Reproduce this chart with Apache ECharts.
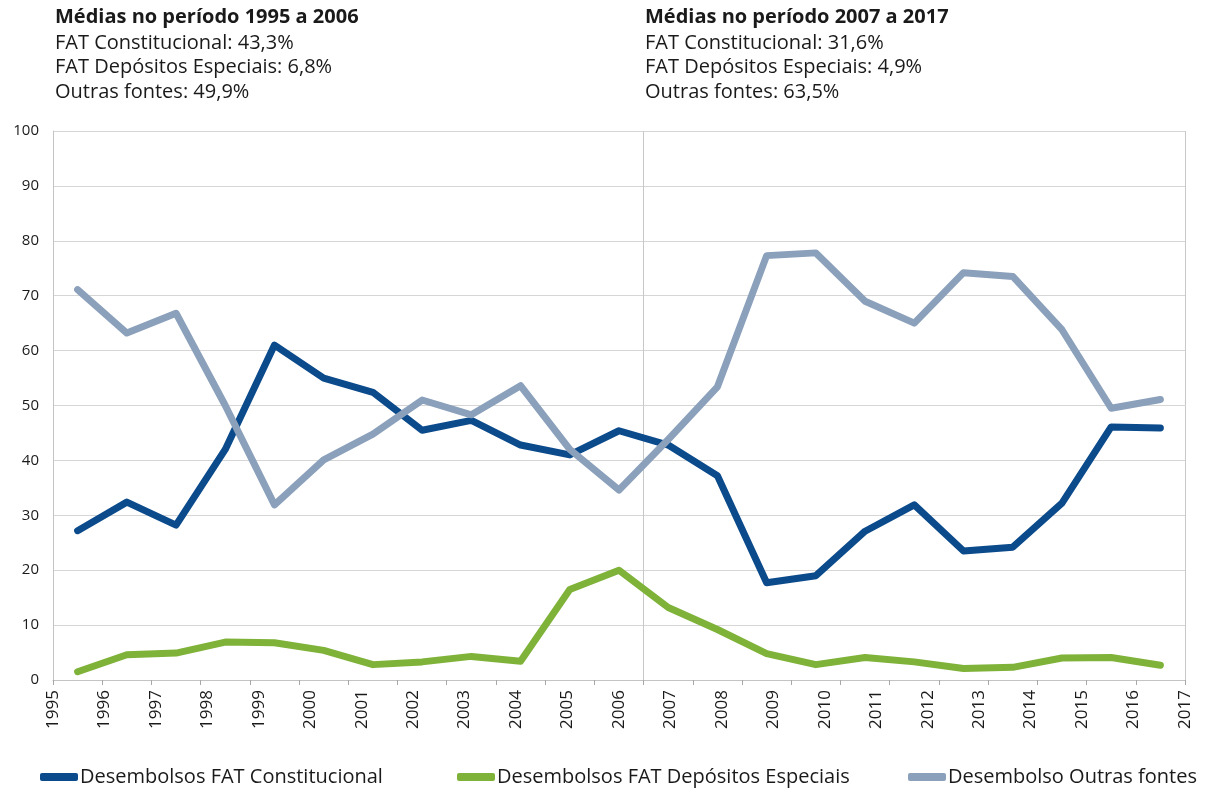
<!DOCTYPE html>
<html>
<head>
<meta charset="utf-8">
<title>Desembolsos FAT</title>
<script src="https://cdn.jsdelivr.net/npm/echarts@6/dist/echarts.min.js"></script>
<style>
	html, body { margin: 0; padding: 0; background: #fff; }
	#chart { width: 1206px; height: 795px; }
</style>
</head>
<body>
<div id="chart"></div>
<script>
var years = ["1995", "1996", "1997", "1998", "1999", "2000", "2001", "2002", "2003", "2004", "2005", "2006",
	"2007", "2008", "2009", "2010", "2011", "2012", "2013", "2014", "2015", "2016", "2017"];
var fatConstitucional = [27.2, 32.4, 28.2, 42, 61, 55, 52.4, 45.5, 47.3, 42.8, 41, 45.4,
	42.8, 37.2, 17.7, 19, 27.1, 31.9, 23.5, 24.2, 32.2, 46.1, 45.9];
var fatDepositos = [1.5, 4.6, 4.9, 6.9, 6.8, 5.4, 2.8, 3.3, 4.3, 3.4, 16.5, 20,
	13.2, 9.2, 4.8, 2.8, 4.1, 3.3, 2.1, 2.3, 4, 4.1, 2.7];
var outrasFontes = [71.1, 63.2, 66.8, 50, 31.9, 40.1, 44.8, 51, 48.3, 53.6, 42, 34.6,
	43.8, 53.4, 77.3, 77.8, 69, 65, 74.2, 73.5, 63.8, 49.5, 51.1];
var seriesNames = ["Desembolsos FAT Constitucional", "Desembolsos FAT Depósitos Especiais", "Desembolso Outras fontes"];
var seriesColors = ["#0b4a8b", "#7fb239", "#8ba0bb"];
var yTicks = [0, 10, 20, 30, 40, 50, 60, 70, 80, 90, 100];
var periodTitles = ["Médias no período 1995 a 2006", "Médias no período 2007 a 2017"];
var periodLines = [
	["FAT Constitucional: 43,3%", "FAT Depósitos Especiais: 6,8%", "Outras fontes: 49,9%"],
	["FAT Constitucional: 31,6%", "FAT Depósitos Especiais: 4,9%", "Outras fontes: 63,5%"]
];
// boundary (between categories) where the period divider is drawn
var dividerIndex = 12;

var fontFamily = "'Open Sans', 'Noto Sans', sans-serif";
var textColor = "#1a1a1a";
var gridColor = "#d6d6d6";

var chart = echarts.init(document.getElementById("chart"), null, { renderer: "canvas" });

var makeTitle = function (i, left) {
	return {
		text: periodTitles[i],
		subtext: periodLines[i].join("\n"),
		left: left,
		top: 5,
		itemGap: 1,
		padding: 0,
		textStyle: { fontFamily: fontFamily, fontSize: 20, fontWeight: "bold", color: textColor, lineHeight: 25 },
		subtextStyle: { fontFamily: fontFamily, fontSize: 20, color: textColor, lineHeight: 24.5 }
	};
};

var makeLegend = function (i, left) {
	return {
		data: [seriesNames[i]],
		left: left,
		top: 767,
		padding: 0,
		icon: "roundRect",
		itemWidth: 38,
		itemHeight: 8,
		itemGap: 4,
		selectedMode: false,
		textStyle: { fontFamily: fontFamily, fontSize: 20, color: textColor, padding: [0, 0, 0, -3] }
	};
};

var makeSeries = function (i, data) {
	return {
		name: seriesNames[i],
		type: "line",
		data: data,
		xAxisIndex: 0,
		yAxisIndex: 0,
		showSymbol: false,
		symbol: "none",
		color: seriesColors[i],
		lineStyle: { width: 7, color: seriesColors[i], cap: "round", join: "round" },
		emphasis: { disabled: true },
		silent: true
	};
};

var option = {
	backgroundColor: "#fff",
	animation: false,
	title: [makeTitle(0, 55), makeTitle(1, 645)],
	legend: [makeLegend(0, 40), makeLegend(1, 457), makeLegend(2, 908)],
	grid: { left: 53, right: 21, top: 131, bottom: 115, containLabel: false },
	xAxis: [{
		type: "category",
		data: years,
		boundaryGap: true,
		position: "bottom",
		axisLine: { show: true, lineStyle: { color: "#c4c4c4", width: 1 } },
		axisTick: { show: true, interval: 0, length: 5, lineStyle: { color: "#a8a8a8" } },
		axisLabel: { show: false },
		splitLine: {
			show: true,
			interval: function (index) { return index === 0 || index === dividerIndex; },
			lineStyle: { color: "#c8c8c8", width: 1 }
		}
	}, {
		type: "value",
		position: "bottom",
		min: Number(years[0]),
		max: Number(years[years.length - 1]),
		interval: 1,
		axisLine: { show: false },
		axisTick: { show: false },
		splitLine: { show: false },
		axisLabel: {
			show: true,
			rotate: 90,
			margin: 10,
			fontFamily: fontFamily,
			fontSize: 17,
			color: textColor,
			formatter: function (v) { return String(v); }
		}
	}],
	yAxis: [{
		type: "value",
		min: yTicks[0],
		max: yTicks[yTicks.length - 1],
		interval: yTicks[1] - yTicks[0],
		axisLine: { show: true, lineStyle: { color: "#c4c4c4", width: 1 } },
		axisTick: { show: false },
		axisLabel: { fontFamily: fontFamily, fontSize: 15, color: textColor, margin: 14 },
		splitLine: { show: true, lineStyle: { color: gridColor, width: 1 } }
	}],
	series: [
		makeSeries(0, fatConstitucional),
		makeSeries(1, fatDepositos),
		makeSeries(2, outrasFontes)
	]
};

chart.setOption(option);
</script>
</body>
</html>
